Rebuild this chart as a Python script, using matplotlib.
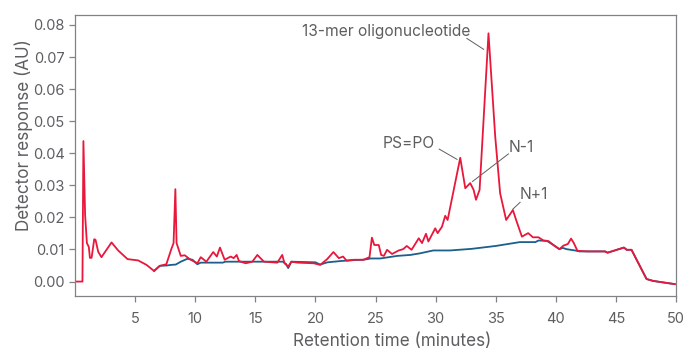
import matplotlib
matplotlib.use("Agg")
import matplotlib.pyplot as plt

plt.rcParams['font.family'] = ['Inter', 'DejaVu Sans']

# sample trace (red)
red_t = [0.0, 0.62, 0.70, 0.84, 0.99, 1.15, 1.24, 1.38, 1.6, 1.71,
         1.93, 2.2, 2.62, 3.04, 3.59, 4.37, 5.25, 5.95, 6.58, 7.05,
         7.6, 8.02, 8.2, 8.35, 8.45, 8.8, 9.13, 9.54, 10.18, 10.46,
         10.93, 11.5, 11.8, 12.06, 12.45, 12.95, 13.2, 13.45, 13.64, 14.2,
         14.75, 15.17, 15.72, 16.83, 17.24, 17.43, 17.74, 18.0, 18.5, 19.87,
         20.4, 20.98, 21.5, 21.95, 22.3, 22.6, 23.2, 24.0, 24.5, 24.7,
         24.9, 25.27, 25.47, 25.7, 25.96, 26.38, 26.93, 27.3, 27.6, 28.0,
         28.6, 28.87, 29.2, 29.4, 29.97, 30.17, 30.53, 30.8, 31.0, 31.45,
         32.05, 32.47, 32.88, 33.16, 33.36, 33.66, 34.4, 34.96, 35.37, 35.87,
         36.43, 36.7, 37.18, 37.7, 38.1, 38.56, 38.97, 39.4, 39.8, 40.3,
         40.63, 41.0, 41.27, 41.5, 41.8, 42.6, 44.1, 44.3, 44.65, 45.07,
         45.67, 45.9, 46.3, 47.55, 48.1, 49.9]
red_v = [0.0, 0.0, 0.0438, 0.0208, 0.012, 0.0108, 0.0074, 0.0074, 0.0132, 0.013,
         0.0093, 0.0076, 0.0099, 0.0122, 0.0097, 0.007, 0.0066, 0.0052, 0.0033, 0.0049,
         0.0054, 0.0102, 0.012, 0.0288, 0.012, 0.008, 0.0082, 0.007, 0.0057, 0.0076,
         0.0062, 0.0092, 0.0078, 0.0106, 0.0068, 0.0078, 0.0073, 0.0083, 0.0064, 0.0057,
         0.0062, 0.0083, 0.0062, 0.0059, 0.0083, 0.0057, 0.0047, 0.0062, 0.0059, 0.0057,
         0.0052, 0.007, 0.0092, 0.0073, 0.0078, 0.0065, 0.0068, 0.0068, 0.0076, 0.0137,
         0.0114, 0.0114, 0.0083, 0.008, 0.0099, 0.0086, 0.0097, 0.0101, 0.0111, 0.0099,
         0.0135, 0.012, 0.0149, 0.0125, 0.0166, 0.0151, 0.0171, 0.0205, 0.0192, 0.0275,
         0.0386, 0.0291, 0.0307, 0.0286, 0.0255, 0.0286, 0.0774, 0.0452, 0.0275, 0.0192,
         0.0223, 0.0192, 0.014, 0.0151, 0.0138, 0.0138, 0.0128, 0.0126, 0.0114, 0.0101,
         0.0112, 0.0117, 0.0134, 0.012, 0.0096, 0.0094, 0.0094, 0.009, 0.0094, 0.0099,
         0.0106, 0.0099, 0.0099, 0.0008, 0.0002, -0.0008]

# blank / baseline trace (blue)
blue_t = [6.58, 7.05, 7.6, 8.0, 8.38, 8.8, 9.35, 9.77, 10.18, 10.46,
          12.3, 12.5, 17.3, 17.55, 17.74, 18.0, 20.0, 20.4, 21.0, 22.1,
          23.2, 24.0, 24.6, 25.4, 26.8, 27.9, 28.7, 29.8, 31.2, 33.0,
          35.0, 37.0, 38.3, 38.56, 39.25, 39.8, 40.3, 40.58, 40.9, 41.6,
          41.96, 42.6, 44.1, 44.3, 44.65, 45.07, 45.67, 45.9, 46.3, 47.55,
          48.1, 49.9]
blue_v = [0.0033, 0.0049, 0.005, 0.0052, 0.0053, 0.0062, 0.0071, 0.0068, 0.0054, 0.0059,
          0.0059, 0.0062, 0.0062, 0.0055, 0.0042, 0.0062, 0.006, 0.0053, 0.006, 0.0064,
          0.0067, 0.0068, 0.0072, 0.0072, 0.008, 0.0083, 0.0088, 0.0097, 0.0097, 0.0102,
          0.0111, 0.0123, 0.0123, 0.0128, 0.0127, 0.0114, 0.0101, 0.0105, 0.0101, 0.0097,
          0.0094, 0.0094, 0.0094, 0.009, 0.0094, 0.0099, 0.0106, 0.0099, 0.0099, 0.0008,
          0.0002, -0.0008]

# peak labels: text, text position, line start, line end
labels = ['13-mer oligonucleotide', 'PS=PO', 'N-1', 'N+1']
label_xy = [(25.9, 0.0779), (27.8, 0.0429), (37.1, 0.0417), (38.2, 0.0270)]
line_from = [(32.6, 0.0758), (30.3, 0.0413), (36.06, 0.0398), (37.03, 0.0247)]
line_to = [(34.0, 0.0724), (31.78, 0.0381), (33.07, 0.0312), (36.43, 0.0226)]

xticks = [5, 10, 15, 20, 25, 30, 35, 40, 45, 50]
yticks = [0.0, 0.01, 0.02, 0.03, 0.04, 0.05, 0.06, 0.07, 0.08]

gray = '#5d5e60'
red = '#e8173b'
blue = '#1b5f8a'

fig = plt.figure(figsize=(6.87, 3.51), dpi=100)
ax = fig.add_axes([75 / 687, 55 / 351, 601 / 687, 281.3 / 351])

ax.plot(blue_t, blue_v, color=blue, lw=1.3)
ax.plot(red_t, red_v, color=red, lw=1.3)

for txt, xy, p0, p1 in zip(labels, label_xy, line_from, line_to):
    ax.text(xy[0], xy[1], txt, ha='center', va='center', fontsize=11.2, color=gray)
    ax.plot([p0[0], p1[0]], [p0[1], p1[1]], color=gray, lw=0.7)

ax.set_xlim(0, 50)
ax.set_ylim(-0.0045, 0.0832)
ax.set_xticks(xticks)
ax.set_xticklabels([str(x) for x in xticks])
ax.set_yticks(yticks)
ax.set_yticklabels(['%.2f' % y for y in yticks])
ax.tick_params(axis='x', length=4.5, width=0.9, color='#808285', pad=7,
               labelsize=10.5, labelcolor=gray)
ax.tick_params(axis='y', length=4.5, width=0.9, color='#808285', pad=3,
               labelsize=10.5, labelcolor=gray)
for s in ax.spines.values():
    s.set_color('#808285')
    s.set_linewidth(0.9)

fig.text(392 / 687, 1 - 342 / 351, 'Retention time (minutes)', ha='center',
         va='center', fontsize=12.3, color=gray)
fig.text(24 / 687, 1 - 135 / 351, 'Detector response (AU)', ha='center',
         va='center', rotation=90, fontsize=12.3, color=gray)

fig.savefig('out.png', dpi=100)
